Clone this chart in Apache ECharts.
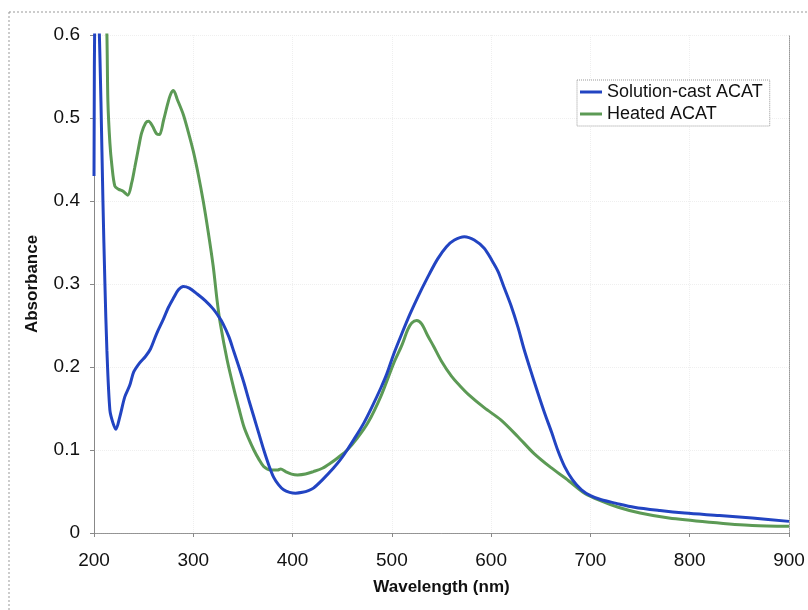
<!DOCTYPE html>
<html>
<head>
<meta charset="utf-8">
<script src="https://cdn.jsdelivr.net/npm/echarts@6/dist/echarts.min.js"></script>
<style>
  html, body { margin: 0; padding: 0; background: #fff; }
  #viz { width: 808px; height: 610px; }
</style>
</head>
<body>
<div id="viz"></div>
<script>
// Absorbance spectra, values

const solutionWavelength = [200, 201, 203, 205, 207, 209, 211, 213, 216, 219, 222, 226, 231, 236, 240, 246, 252, 257, 263, 270,
    275, 280, 285, 290, 296, 304, 312, 320, 326, 330, 336, 341, 346, 351, 356, 361, 366, 371, 376, 381,
    386, 391, 397, 403, 410, 416, 421, 430, 441, 448, 455, 464, 472, 480, 489, 495, 502, 510, 518, 526,
    536, 546, 555, 563, 573, 583, 593, 600, 607, 613, 620, 627, 633, 640, 647, 654, 661, 667, 674, 682,
    691, 700, 711, 725, 744, 770, 795, 830, 863, 900];
const solutionAbs = [0.43, 0.66, 0.70, 0.62, 0.52, 0.40, 0.30, 0.22, 0.148, 0.133, 0.125, 0.14, 0.164, 0.178, 0.194, 0.205, 0.213, 0.222, 0.240, 0.258,
    0.272, 0.283, 0.293, 0.297, 0.295, 0.288, 0.280, 0.270, 0.260, 0.252, 0.236, 0.218, 0.200, 0.181, 0.160, 0.140, 0.120, 0.100, 0.082, 0.067,
    0.058, 0.052, 0.049, 0.048, 0.049, 0.051, 0.054, 0.064, 0.078, 0.088, 0.100, 0.117, 0.133, 0.152, 0.175, 0.192, 0.216, 0.240, 0.263, 0.284,
    0.308, 0.330, 0.345, 0.353, 0.357, 0.353, 0.343, 0.330, 0.315, 0.296, 0.274, 0.248, 0.222, 0.195, 0.169, 0.144, 0.121, 0.100, 0.080, 0.064,
    0.052, 0.045, 0.040, 0.036, 0.031, 0.027, 0.024, 0.021, 0.018, 0.014];

const heatedWavelength = [200, 206, 210, 213, 214, 216, 218, 221, 225, 229, 234, 238, 241, 245, 248, 252, 255, 259, 263, 266,
    270, 274, 277, 280, 284, 290, 295, 300, 305, 310, 315, 320, 324, 327, 334, 341, 346, 351, 356, 361,
    366, 371, 378, 385, 388, 393, 399, 405, 413, 421, 430, 438, 446, 455, 465, 476, 489, 502, 510, 516,
    520, 525, 530, 536, 542, 550, 560, 568, 577, 593, 610, 627, 643, 660, 678, 694, 710, 728, 750, 779,
    820, 863, 900];
const heatedAbs = [1.2, 0.9, 0.72, 0.60, 0.52, 0.47, 0.443, 0.418, 0.414, 0.412, 0.407, 0.422, 0.44, 0.465, 0.482, 0.494, 0.496, 0.490, 0.481, 0.480,
    0.497, 0.516, 0.528, 0.533, 0.522, 0.504, 0.483, 0.460, 0.432, 0.400, 0.363, 0.322, 0.280, 0.254, 0.209, 0.173, 0.150, 0.128, 0.113, 0.100,
    0.089, 0.080, 0.076, 0.076, 0.077, 0.074, 0.071, 0.070, 0.071, 0.074, 0.078, 0.084, 0.091, 0.100, 0.114, 0.133, 0.165, 0.205, 0.226, 0.245,
    0.253, 0.256, 0.252, 0.238, 0.225, 0.207, 0.189, 0.178, 0.167, 0.151, 0.136, 0.116, 0.096, 0.079, 0.063, 0.048, 0.039, 0.031, 0.024, 0.018,
    0.013, 0.009, 0.008];

const seriesNames = ['Solution-cast ACAT', 'Heated ACAT'];

function pairs(xs, ys) {
    return xs.map((x, i) => [x, ys[i]]);
}

const font = 'Arial, "Liberation Sans", sans-serif';
var myChart = echarts.init(document.getElementById('viz'));

var option = {
    animation: false,
    backgroundColor: '#fff',
    textStyle: { fontFamily: font },
    graphic: [{
        type: 'rect',
        shape: { x: 9, y: 12, width: 805, height: 610 },
        style: { fill: 'none', stroke: '#999', lineWidth: 1, lineDash: [2, 2] }
    }],
    grid: { left: 94, right: 19, top: 35, bottom: 77 },
    legend: {
        orient: 'vertical',
        left: 577,
        top: 80,
        padding: [3, 7, 3, 3],
        itemGap: 4,
        itemWidth: 22,
        itemHeight: 3,
        icon: 'rect',
        borderColor: '#999',
        borderWidth: 1,
        borderType: 'dotted',
        backgroundColor: '#fff',
        textStyle: { fontSize: 18, color: '#111', fontFamily: font },
        data: seriesNames
    },
    xAxis: [{
        type: 'value',
        min: 200,
        max: 900,
        interval: 100,
        name: 'Wavelength (nm)',
        nameLocation: 'middle',
        nameGap: 46,
        nameTextStyle: { fontSize: 17, fontWeight: 'bold', color: '#111' },
        axisLine: { lineStyle: { color: '#888' } },
        axisTick: { show: true, length: 4, inside: false, lineStyle: { color: '#888' } },
        axisLabel: { fontSize: 19, color: '#111', margin: 18 },
        splitLine: { show: true, lineStyle: { color: '#efefef', type: 'dotted' } }
    }, {
        type: 'value',
        position: 'top',
        min: 200,
        max: 900,
        interval: 100,
        axisLine: { show: true, lineStyle: { color: '#999', type: 'dotted' } },
        axisTick: { show: false },
        axisLabel: { show: false },
        splitLine: { show: false }
    }],
    yAxis: [{
        type: 'value',
        min: 0,
        max: 0.6,
        interval: 0.1,
        name: 'Absorbance',
        nameLocation: 'middle',
        nameGap: 53,
        nameTextStyle: { fontSize: 17, fontWeight: 'bold', color: '#111' },
        axisLine: { show: true, lineStyle: { color: '#888' } },
        axisTick: { show: true, length: 4, lineStyle: { color: '#888' } },
        axisLabel: { fontSize: 19, color: '#111', margin: 14 },
        splitLine: { show: true, lineStyle: { color: '#efefef', type: 'dotted' } }
    }, {
        type: 'value',
        position: 'right',
        min: 0,
        max: 0.6,
        interval: 0.1,
        axisLine: { show: true, lineStyle: { color: '#999', type: 'dotted' } },
        axisTick: { show: false },
        axisLabel: { show: false },
        splitLine: { show: false }
    }],
    series: [{
        name: seriesNames[0],
        type: 'line',
        data: pairs(solutionWavelength, solutionAbs),
        showSymbol: false,
        smooth: 0.3,
        clip: true,
        color: '#2244c2',
        lineStyle: { width: 3, color: '#2244c2' },
        z: 3
    }, {
        name: seriesNames[1],
        type: 'line',
        data: pairs(heatedWavelength, heatedAbs),
        showSymbol: false,
        smooth: 0.3,
        clip: true,
        color: '#5c9a55',
        lineStyle: { width: 3, color: '#5c9a55' },
        z: 2
    }]
};

myChart.setOption(option);
</script>
</body>
</html>
